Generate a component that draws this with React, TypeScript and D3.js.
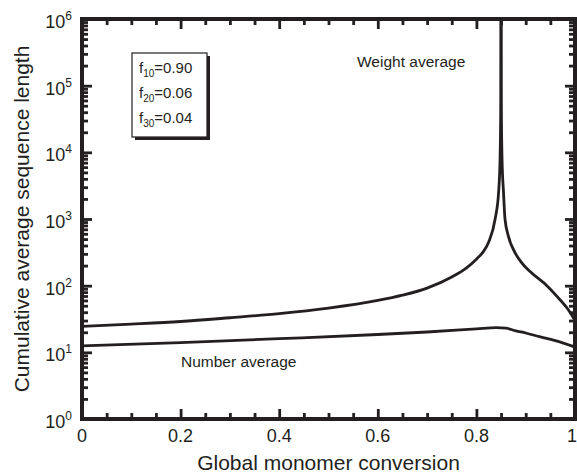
import React, { useRef, useEffect } from 'react';
import * as d3 from 'd3';

// weight average, left branch up to the singularity near x = 0.85
const weightLeftX = [0, 0.1, 0.2, 0.3, 0.4, 0.5, 0.6, 0.65, 0.7, 0.75, 0.78, 0.8, 0.813, 0.825, 0.838, 0.845, 0.848, 0.8495, 0.85];
const weightLeftY = [24.5, 26.5, 29, 33, 38, 46, 60, 72, 92, 135, 185, 250, 316, 450, 1000, 2500, 8000, 60000, 1e6];
// weight average, right branch
const weightRightX = [0.85, 0.8505, 0.852, 0.855, 0.858, 0.865, 0.878, 0.89, 0.91, 0.943, 0.97, 0.985, 1.0];
const weightRightY = [1e6, 60000, 8000, 2500, 1000, 550, 316, 230, 160, 100, 61, 45, 30];
// number average
const numberX = [0, 0.2, 0.4, 0.6, 0.7, 0.8, 0.84, 0.86, 0.88, 0.9, 0.93, 0.96, 1.0];
const numberY = [12.5, 14, 16, 18.5, 20.2, 22.5, 23.5, 23, 21, 19.5, 17, 15, 12];

const xTicks = [0, 0.2, 0.4, 0.6, 0.8, 1];
const xTickLabels = ['0', '0.2', '0.4', '0.6', '0.8', '1'];
const yExponents = [0, 1, 2, 3, 4, 5, 6];
const fractions = [
  { sub: '10', val: '0.90' },
  { sub: '20', val: '0.06' },
  { sub: '30', val: '0.04' },
];

const W = 577;
const H = 474;
const m = { left: 82, right: 2, top: 19, bottom: 55 };
const font = 'Liberation Sans, Arial, sans-serif';
const ink = '#231f20';

function Chart() {
  const svgRef = useRef<SVGSVGElement>(null);

  useEffect(() => {
    const svg = d3.select(svgRef.current);
    svg.selectAll('*').remove();

    const x = d3.scaleLinear().domain([0, 1]).range([m.left, W - m.right]);
    const y = d3.scaleLog().domain([1, 1e6]).range([H - m.bottom, m.top]);
    const x0 = m.left;
    const x1 = W - m.right;
    const y0 = H - m.bottom;
    const y1 = m.top;

    svg.append('rect').attr('width', W).attr('height', H).attr('fill', '#fff');

    svg
      .append('clipPath')
      .attr('id', 'plotClip')
      .append('rect')
      .attr('x', x0)
      .attr('y', y1)
      .attr('width', x1 - x0)
      .attr('height', y0 - y1);

    const line = d3
      .line<[number, number]>()
      .x((d) => x(d[0]))
      .y((d) => y(d[1]))
      .curve(d3.curveMonotoneX);
    const zip = (a: number[], b: number[]) => a.map((v, i) => [v, b[i]] as [number, number]);

    const curves = svg.append('g').attr('clip-path', 'url(#plotClip)');
    [zip(weightLeftX, weightLeftY), zip(weightRightX, weightRightY), zip(numberX, numberY)].forEach((d) => {
      curves
        .append('path')
        .attr('d', line(d))
        .attr('fill', 'none')
        .attr('stroke', ink)
        .attr('stroke-width', 2.8);
    });

    const xMinor = d3.range(1, 20).filter((k) => k % 4 !== 0).map((k) => k * 0.05);
    const yMinor: number[] = [];
    for (let e = 0; e < 6; e++) for (let k = 2; k <= 9; k++) yMinor.push(k * Math.pow(10, e));
    const yMajor = yExponents.map((e) => Math.pow(10, e));

    const major = 10;
    const minor = 6;

    const addAxis = (axis: d3.Axis<any>, tx: number, ty: number) => {
      const g = svg.append('g').attr('transform', `translate(${tx},${ty})`).call(axis);
      g.select('.domain').remove();
      g.selectAll('.tick line').attr('stroke', ink).attr('stroke-width', 2.8);
      g.selectAll('.tick text').remove();
    };

    // inward ticks on all four sides
    addAxis(d3.axisBottom(x).tickValues(xTicks).tickSize(-major), 0, y0);
    addAxis(d3.axisBottom(x).tickValues(xMinor).tickSize(-minor), 0, y0);
    addAxis(d3.axisTop(x).tickValues(xTicks).tickSize(-major), 0, y1);
    addAxis(d3.axisTop(x).tickValues(xMinor).tickSize(-minor), 0, y1);
    addAxis(d3.axisLeft(y).tickValues(yMajor).tickSize(-major), x0, 0);
    addAxis(d3.axisLeft(y).tickValues(yMinor).tickSize(-minor), x0, 0);
    addAxis(d3.axisRight(y).tickValues(yMajor).tickSize(-major), x1, 0);
    addAxis(d3.axisRight(y).tickValues(yMinor).tickSize(-minor), x1, 0);

    svg
      .append('rect')
      .attr('x', x0)
      .attr('y', y1)
      .attr('width', x1 - x0)
      .attr('height', y0 - y1)
      .attr('fill', 'none')
      .attr('stroke', ink)
      .attr('stroke-width', 4);

    const labels = svg.append('g').attr('font-family', font).attr('fill', ink);

    xTicks.forEach((t, i) => {
      labels
        .append('text')
        .attr('x', Math.min(x(t), W - 5))
        .attr('y', y0 + 23)
        .attr('text-anchor', 'middle')
        .attr('font-size', 18)
        .text(xTickLabels[i]);
    });

    yExponents.forEach((e) => {
      const t = labels
        .append('text')
        .attr('x', x0 - 10)
        .attr('y', y(Math.pow(10, e)) + 9)
        .attr('text-anchor', 'end')
        .attr('font-size', 18);
      t.append('tspan').text('10');
      t.append('tspan').attr('font-size', 12).attr('dy', -8).text(String(e));
    });

    labels
      .append('text')
      .attr('x', (x0 + x1) / 2)
      .attr('y', H - 4)
      .attr('text-anchor', 'middle')
      .attr('font-size', 21)
      .text('Global monomer conversion');

    labels
      .append('text')
      .attr('transform', `translate(29,${(y0 + y1) / 2}) rotate(-90)`)
      .attr('text-anchor', 'middle')
      .attr('font-size', 21)
      .text('Cumulative average sequence length');

    labels.append('text').attr('x', 357).attr('y', 67).attr('font-size', 15.5).text('Weight average');
    labels.append('text').attr('x', 181).attr('y', 367).attr('font-size', 15.5).text('Number average');

    // composition box with drop shadow
    svg.append('rect').attr('x', 135).attr('y', 56).attr('width', 75).attr('height', 84).attr('fill', ink);
    svg
      .append('rect')
      .attr('x', 132)
      .attr('y', 53)
      .attr('width', 75)
      .attr('height', 84)
      .attr('fill', '#fff')
      .attr('stroke', ink)
      .attr('stroke-width', 1.2);

    fractions.forEach((f, i) => {
      const t = svg
        .append('text')
        .attr('x', 139)
        .attr('y', 73 + i * 25)
        .attr('font-family', font)
        .attr('font-size', 15)
        .attr('fill', ink);
      t.append('tspan').text('f');
      t.append('tspan').attr('font-size', 10).attr('dy', 4).text(f.sub);
      t.append('tspan').attr('dy', -4).text('=' + f.val);
    });
  }, []);

  return <svg ref={svgRef} width={W} height={H} style={{ position: 'absolute', left: 0, top: 0 }}></svg>;
}

export default function App() {
  return <Chart />;
}
